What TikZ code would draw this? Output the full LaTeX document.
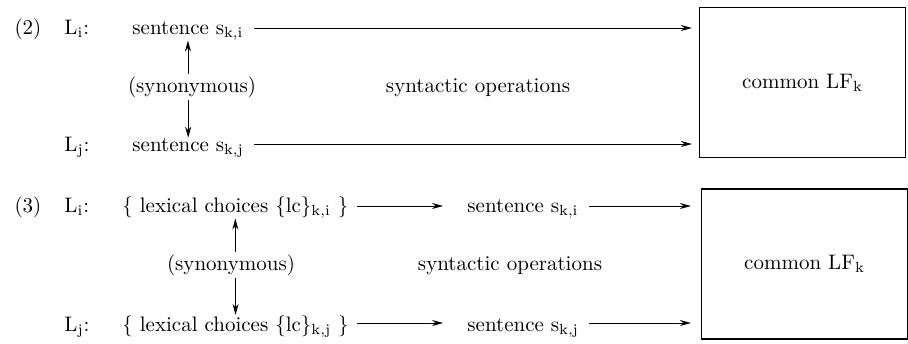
\documentclass[tikz,border=0pt]{standalone}
\usetikzlibrary{positioning, arrows.meta}
\begin{document}
\begin{tikzpicture}[x=0.5pt, y=-0.5pt, >={Stealth[length=5.5pt, width=3pt]}, thin,
    every node/.style={inner sep=1pt, font=\fontsize{10.5}{12}\selectfont},
    lfbox/.style={draw, line width=0.6pt, minimum width=103pt, minimum height=75pt}]
	\useasboundingbox (0,0) rectangle (908,343);
	% 1. 例 (2)
	\node[anchor=base] (num2) at (28,34) {(2)};
	\node[anchor=base west] (li2) at (62,34) {L\textsubscript{i}:};
	\node[anchor=base west] (lj2) at (62,151) {L\textsubscript{j}:};
	\node[anchor=base west] (si2) at (130,34) {sentence s\textsubscript{k,i}};
	\node[anchor=base west] (sj2) at (130,151) {sentence s\textsubscript{k,j}};
	\node[anchor=base] (syn2) at (192,92) {(synonymous)};
	\node[anchor=base] (op2) at (478,92) {syntactic operations};
	\node[lfbox] (lf2) at (802.5,82.5) {common LF\textsubscript{k}};
	
	% 2. 例 (3)
	\node[anchor=base] (num3) at (28,212) {(3)};
	\node[anchor=base west] (li3) at (62,212) {L\textsubscript{i}:};
	\node[anchor=base west] (lj3) at (62,331) {L\textsubscript{j}:};
	\node[anchor=base west] (lci3) at (120,212) {\{ lexical choices \{lc\}\textsubscript{k,i} \}};
	\node[anchor=base west] (lcj3) at (120,331) {\{ lexical choices \{lc\}\textsubscript{k,j} \}};
	\node[anchor=base west] (si3) at (465,212) {sentence s\textsubscript{k,i}};
	\node[anchor=base west] (sj3) at (465,331) {sentence s\textsubscript{k,j}};
	\node[anchor=base] (syn3) at (231,270) {(synonymous)};
	\node[anchor=base] (op3) at (510,270) {syntactic operations};
	\node[lfbox] (lf3) at (804.5,264) {common LF\textsubscript{k}};
	
	% 3. 箭头 (坐标在文字中线处)
	\coordinate (a2) at ([xshift=4pt, yshift=3pt]si2.base east);
	\coordinate (b2) at ([xshift=4pt, yshift=3.5pt]sj2.base east);
	\draw[->] (a2) -- ([xshift=-3.5pt]a2 -| lf2.west);
	\draw[->] (b2) -- ([xshift=-3.5pt]b2 -| lf2.west);
	\draw[->] (syn2.north -| si2.south) -- ([yshift=1pt]si2.south);
	\draw[->] (syn2.south -| sj2.north) -- ([yshift=-1pt]sj2.north);
	
	\coordinate (a3) at ([xshift=3pt, yshift=3pt]lci3.base east);
	\coordinate (b3) at ([xshift=3pt, yshift=4pt]lcj3.base east);
	\draw[->] (a3) -- ([xshift=-11pt]a3 -| si3.west);
	\draw[->] (b3) -- ([xshift=-11pt]b3 -| sj3.west);
	\coordinate (c3) at ([xshift=4pt, yshift=3pt]si3.base east);
	\coordinate (d3) at ([xshift=4pt, yshift=4pt]sj3.base east);
	\draw[->] (c3) -- ([xshift=-5pt]c3 -| lf3.west);
	\draw[->] (d3) -- ([xshift=-5pt]d3 -| lf3.west);
	\draw[->] (syn3.north -| lci3.south) -- ([yshift=1pt]lci3.south);
	\draw[->] (syn3.south -| lcj3.north) -- ([yshift=-1pt]lcj3.north);
\end{tikzpicture}
\end{document}
